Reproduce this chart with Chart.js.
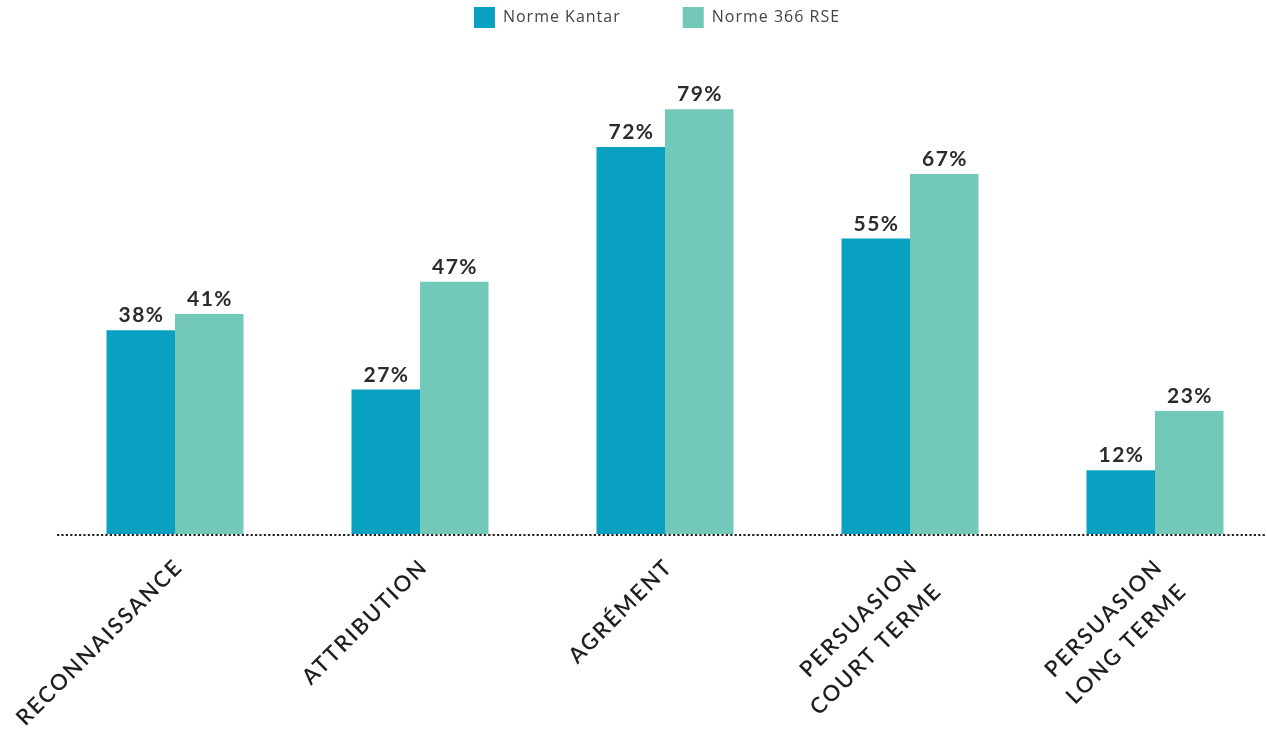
<!DOCTYPE html>
<html>
<head>
<meta charset="utf-8">
<script src="https://cdn.jsdelivr.net/npm/chart.js@4.4.1/dist/chart.umd.min.js"></script>
<style>
  html, body { margin: 0; padding: 0; background: #ffffff; overflow: hidden; }
  #wrap { position: relative; width: 1267px; height: 736px; }
</style>
</head>
<body>
<div id="wrap"><canvas id="chart"></canvas></div>
<script>
// Categories (multi-line labels are arrays)
const categories = [
  ['RECONNAISSANCE'],
  ['ATTRIBUTION'],
  ['AGRÉMENT'],
  ['PERSUASION', 'COURT TERME'],
  ['PERSUASION', 'LONG TERME']
];
const seriesNames = ['Norme Kantar', 'Norme 366 RSE'];
const kantarValues = [38, 27, 72, 55, 12];
const rseValues = [41, 47, 79, 67, 23];
const seriesColors = ['#08A1C1', '#72C8B9'];

const toPoints = vals => vals.map((v, i) => ({ x: i, y: v }));

// Run a drawing/measuring function with a given letter spacing
function spaced(ctx, spacing, fn) {
  ctx.save();
  ctx.letterSpacing = spacing;
  const r = fn();
  ctx.restore();
  return r;
}

// Percent labels above each bar
const valueLabels = {
  id: 'valueLabels',
  afterDatasetsDraw(chart) {
    const ctx = chart.ctx;
    ctx.save();
    ctx.font = 'bold 21px Lato';
    ctx.fillStyle = '#2b2b2b';
    ctx.textAlign = 'center';
    ctx.textBaseline = 'alphabetic';
    ctx.letterSpacing = '1.5px';
    chart.data.datasets.forEach((ds, di) => {
      chart.getDatasetMeta(di).data.forEach((bar, i) => {
        ctx.fillText(ds.data[i].y + '%', bar.x + 0.75, bar.y - 8);
      });
    });
    ctx.restore();
  }
};

// Legend with fixed height and spaced lettering; spaced axis labels
const legendLayout = {
  id: 'legendLayout',
  beforeInit(chart) {
    const legend = chart.legend;
    const fit = legend.fit;
    const draw = legend.draw;
    legend.fit = function () {
      spaced(this.ctx, '1px', () => fit.call(this));
      this.height = 50;
    };
    legend.draw = function () {
      spaced(this.ctx, '1px', () => draw.call(this));
    };
  },
  afterLayout(chart) {
    const pad = chart.options.plugins.legend.labels.padding;
    chart.legend.top = 7 - pad;
    chart.legend.left -= 5;
    chart.legend.right -= 5;
    const x = chart.scales.x;
    if (!x._spaced) {
      const drawLabels = x.drawLabels;
      x.drawLabels = function (area) {
        const ctx = this.ctx;
        ctx.save();
        ctx.translate(4, 2);
        spaced(ctx, '2px', () => drawLabels.call(this, area));
        ctx.restore();
      };
      x._spaced = true;
    }
  }
};

new Chart(document.getElementById('chart'), {
  type: 'bar',
  data: {
    datasets: [
      { label: seriesNames[0], data: toPoints(kantarValues), backgroundColor: seriesColors[0] },
      { label: seriesNames[1], data: toPoints(rseValues), backgroundColor: seriesColors[1] }
    ]
  },
  options: {
    responsive: true,
    maintainAspectRatio: false,
    animation: false,
    layout: { padding: { left: 57, right: 0, top: 0, bottom: 0 } },
    datasets: { bar: { barPercentage: 1, categoryPercentage: 0.5592 } },
    scales: {
      x: {
        type: 'linear',
        offset: false,
        min: -0.4816,
        max: 4.4571,
        grid: { display: false, drawTicks: false },
        border: { display: false },
        afterBuildTicks: s => { s.ticks = categories.map((_, i) => ({ value: i })); },
        afterFit: s => { s.height = 201; s.paddingLeft = 0; s.paddingRight = 0; },
        ticks: {
          includeBounds: false,
          autoSkip: false,
          minRotation: 45,
          maxRotation: 45,
          padding: 14,
          color: '#1e1e1e',
          font: { family: 'Lato', size: 22, weight: '600', lineHeight: 1.55 },
          callback: v => categories[v]
        }
      },
      y: {
        display: true,
        min: 0,
        max: 90,
        afterFit: s => { s.width = 0; },
        ticks: { display: false },
        border: { display: false, dash: [2.2, 2.2] },
        // dotted baseline at zero only
        grid: {
          drawTicks: false,
          lineWidth: 2,
          color: c => (c.tick && c.tick.value === 0 ? '#222222' : 'rgba(0,0,0,0)')
        }
      }
    },
    plugins: {
      legend: {
        position: 'top',
        labels: {
          boxWidth: 21,
          boxHeight: 21,
          padding: 62,
          color: '#444444',
          font: { family: 'Open Sans', size: 16 }
        }
      },
      tooltip: { enabled: false }
    }
  },
  plugins: [valueLabels, legendLayout]
});
</script>
</body>
</html>
